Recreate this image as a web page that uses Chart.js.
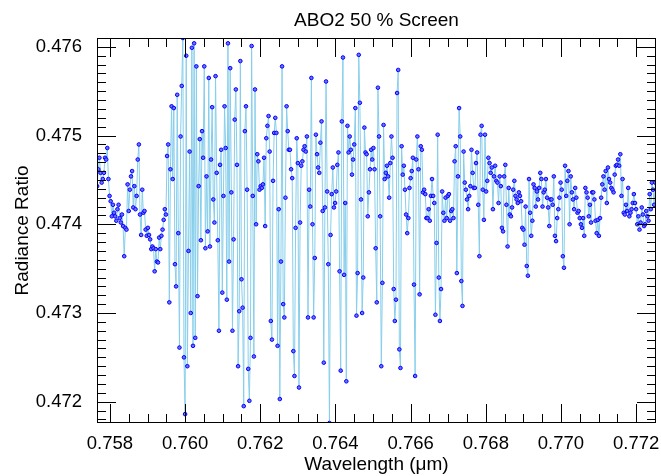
<!DOCTYPE html>
<html>
<head>
<meta charset="utf-8">
<script src="https://cdn.jsdelivr.net/npm/chart.js@4/dist/chart.umd.min.js"></script>
<style>
  html, body { margin: 0; padding: 0; background: #fff; }
  #wrap { width: 661px; height: 476px; }
</style>
</head>
<body>
<div id="wrap"><canvas id="ratioChart" width="661" height="476"></canvas></div>
<script>
// sampling of the spectrum
const wavelengthStart = 0.75766;
const wavelengthStep = 0.00003;

// radiance ratio per sample
const radianceRatio = [
  0.47443, 0.47462, 0.47475, 0.47458, 0.47447, 0.47451, 0.47458, 0.47475, 0.47473, 0.47486, 0.47451, 0.47432,
  0.47426, 0.47409, 0.47422, 0.47413, 0.47409, 0.47404, 0.47417, 0.47422, 0.47407, 0.47402, 0.47411, 0.47398,
  0.47364, 0.47396, 0.47394, 0.47445, 0.47415, 0.47439, 0.47454, 0.47460, 0.47419, 0.47443, 0.47417, 0.47432,
  0.47473, 0.47490, 0.47411, 0.47388, 0.47439, 0.47413, 0.47415, 0.47394, 0.47387, 0.47396, 0.47388, 0.47383,
  0.47372, 0.47375, 0.47373, 0.47347, 0.47372, 0.47358, 0.47357, 0.47385, 0.47372, 0.47387, 0.47394, 0.47405,
  0.47417, 0.47411, 0.47477, 0.47490, 0.47312, 0.47462, 0.47533, 0.47451, 0.47531, 0.47355, 0.47330, 0.47546,
  0.47390, 0.47261, 0.47499, 0.47556, 0.47610, 0.47250, 0.47186, 0.47590, 0.47240, 0.47370, 0.47482,
  0.47300, 0.47599, 0.47263, 0.47604, 0.47272, 0.47578, 0.47319, 0.47443, 0.47496, 0.47382, 0.47505, 0.47475,
  0.47578, 0.47373, 0.47454, 0.47392, 0.47565, 0.47375, 0.47473, 0.47532, 0.47428, 0.47402, 0.47567, 0.47458,
  0.47382, 0.47280, 0.47467, 0.47484, 0.47323, 0.47432, 0.47533, 0.47486, 0.47315, 0.47604, 0.47358, 0.47576,
  0.47436, 0.47280, 0.47383, 0.47518, 0.47552, 0.47467, 0.47240, 0.47302, 0.47584, 0.47338, 0.47306, 0.47195,
  0.47505, 0.47533, 0.47439, 0.47237, 0.47201, 0.47272, 0.47601, 0.47432, 0.47251, 0.47552, 0.47400, 0.47479,
  0.47471, 0.47439, 0.47443, 0.47441, 0.47445, 0.47475, 0.47398, 0.47497, 0.47511, 0.47522, 0.47482, 0.47291,
  0.47270, 0.47449, 0.47503, 0.47520, 0.47503, 0.47263, 0.47417, 0.47203, 0.47358,
  0.47578, 0.47310, 0.47295, 0.47430, 0.47533, 0.47505, 0.47484, 0.47484, 0.47462, 0.47452, 0.47257, 0.47229,
  0.47396, 0.47497, 0.47469, 0.47216, 0.47402, 0.47466, 0.47471, 0.47484, 0.47488, 0.47482, 0.47499, 0.47295,
  0.47439, 0.47420, 0.47565, 0.47400, 0.47295, 0.47362, 0.47501, 0.47479, 0.47464, 0.47458, 0.47492, 0.47516,
  0.47415, 0.47244, 0.47419, 0.47561, 0.47437, 0.47355, 0.47176, 0.47388, 0.47434, 0.47464, 0.47419, 0.47424,
  0.47437, 0.47467, 0.47481, 0.47347, 0.47235, 0.47516, 0.47588, 0.47343, 0.47424, 0.47223, 0.47511, 0.47481,
  0.47499, 0.47484, 0.47456, 0.47473, 0.47490, 0.47531, 0.47297, 0.47345, 0.47591, 0.47537, 0.47428, 0.47300,
  0.47340, 0.47509, 0.47481, 0.47479, 0.47409, 0.47436, 0.47462, 0.47484, 0.47473, 0.47486,
  0.47462, 0.47373, 0.47312, 0.47554, 0.47499, 0.47409, 0.47240, 0.47334, 0.47512, 0.47451, 0.47458, 0.47466,
  0.47454, 0.47430, 0.47469, 0.47499, 0.47475, 0.47327, 0.47291, 0.47315, 0.47548, 0.47574, 0.47259, 0.47238,
  0.47488, 0.47456, 0.47466, 0.47439, 0.47411, 0.47390, 0.47407, 0.47441, 0.47452, 0.47460, 0.47475, 0.47332,
  0.47229, 0.47473, 0.47499, 0.47462, 0.47321, 0.47488, 0.47484, 0.47436, 0.47439, 0.47434, 0.47407, 0.47407,
  0.47417, 0.47404, 0.47432, 0.47451, 0.47432, 0.47424, 0.47298, 0.47379, 0.47501, 0.47340, 0.47291, 0.47327,
  0.47437, 0.47413, 0.47404, 0.47430, 0.47407, 0.47432, 0.47434, 0.47404, 0.47415, 0.47417, 0.47407, 0.47471,
  0.47488, 0.47345, 0.47454, 0.47531, 0.47499, 0.47336, 0.47308, 0.47482, 0.47447,
  0.47439, 0.47428, 0.47417, 0.47432, 0.47443, 0.47484, 0.47458, 0.47441, 0.47441, 0.47469, 0.47481, 0.47422,
  0.47364, 0.47501, 0.47511, 0.47439, 0.47405, 0.47501, 0.47437, 0.47449, 0.47475, 0.47469, 0.47458, 0.47464,
  0.47417, 0.47454, 0.47466, 0.47449, 0.47447, 0.47424, 0.47454, 0.47443, 0.47396, 0.47392, 0.47454, 0.47467,
  0.47422, 0.47375, 0.47441, 0.47411, 0.47409, 0.47419, 0.47439, 0.47449, 0.47432, 0.47428, 0.47424, 0.47436,
  0.47432, 0.47426, 0.47396, 0.47394, 0.47377, 0.47420, 0.47353, 0.47342, 0.47451, 0.47413, 0.47387, 0.47404,
  0.47445, 0.47441, 0.47420, 0.47437, 0.47428, 0.47441, 0.47458, 0.47451, 0.47420, 0.47436, 0.47439, 0.47451,
  0.47430, 0.47419, 0.47398, 0.47428, 0.47428, 0.47422, 0.47454, 0.47387, 0.47381, 0.47407,
  0.47417, 0.47430, 0.47447, 0.47439, 0.47364, 0.47351, 0.47466, 0.47432, 0.47449, 0.47460, 0.47400, 0.47454,
  0.47436, 0.47428, 0.47417, 0.47441, 0.47430, 0.47413, 0.47415, 0.47407, 0.47400, 0.47396, 0.47407, 0.47387,
  0.47441, 0.47436, 0.47430, 0.47409, 0.47422, 0.47402, 0.47436, 0.47436, 0.47428, 0.47404, 0.47390, 0.47405,
  0.47387, 0.47407, 0.47430, 0.47445, 0.47454, 0.47439, 0.47460, 0.47424, 0.47464, 0.47451, 0.47447, 0.47441,
  0.47439, 0.47436, 0.47456, 0.47466, 0.47467, 0.47473, 0.47466, 0.47479, 0.47432, 0.47451, 0.47413, 0.47411,
  0.47422, 0.47415, 0.47441, 0.47409, 0.47413, 0.47417, 0.47424, 0.47434, 0.47424, 0.47417, 0.47400, 0.47409,
  0.47394, 0.47402, 0.47419, 0.47411, 0.47398, 0.47400, 0.47415, 0.47409, 0.47404, 0.47434, 0.47417, 0.47447,
  0.47439, 0.47422, 0.47447
];

const xTicks = [0.758, 0.760, 0.762, 0.764, 0.766, 0.768, 0.770, 0.772];
const yTicks = [0.472, 0.473, 0.474, 0.475, 0.476];

const points = radianceRatio.map((r, i) => ({ x: wavelengthStart + i * wavelengthStep, y: r }));

const FONT = '"Liberation Sans", Arial, Helvetica, sans-serif';

// box frame, inward tick marks on all four sides, and the titles
const framePlugin = {
  id: 'frame',
  afterDatasetsDraw(chart) {
    const { ctx, chartArea: a, scales } = chart;
    const xs = scales.x, ys = scales.y;
    ctx.save();
    ctx.strokeStyle = '#000';
    ctx.lineWidth = 1;
    ctx.strokeRect(Math.round(a.left) + 0.5, Math.round(a.top) + 0.5,
                   Math.round(a.right - a.left) - 1, Math.round(a.bottom - a.top) - 1);

    ctx.beginPath();
    for (let k = Math.ceil(xs.min / 0.0005); k * 0.0005 <= xs.max; k++) {
      const px = Math.round(xs.getPixelForValue(k * 0.0005)) + 0.5;
      const len = k % 4 === 0 ? 19 : 9;
      ctx.moveTo(px, a.bottom); ctx.lineTo(px, a.bottom - len);
      ctx.moveTo(px, a.top); ctx.lineTo(px, a.top + len);
    }
    for (let k = Math.ceil(ys.min / 0.0001 - 1e-6); k * 0.0001 <= ys.max; k++) {
      const py = Math.round(ys.getPixelForValue(k * 0.0001)) + 0.5;
      const len = k % 10 === 0 ? 19 : 9;
      ctx.moveTo(a.left, py); ctx.lineTo(a.left + len, py);
      ctx.moveTo(a.right, py); ctx.lineTo(a.right - len, py);
    }
    ctx.stroke();

    ctx.fillStyle = '#000';
    ctx.textAlign = 'center';
    ctx.textBaseline = 'middle';
    ctx.font = '19px ' + FONT;
    const cx = (a.left + a.right) / 2;
    ctx.fillText('ABO2 50 % Screen', cx, 21);
    ctx.fillText('Wavelength (\u03bcm)', cx, 465);
    ctx.translate(23, (a.top + a.bottom) / 2);
    ctx.rotate(-Math.PI / 2);
    ctx.fillText('Radiance Ratio', 0, 0);
    ctx.restore();
  }
};

new Chart(document.getElementById('ratioChart'), {
  type: 'line',
  data: {
    datasets: [{
      data: points,
      borderColor: '#87ceeb',
      borderWidth: 1,
      tension: 0,
      pointRadius: 1.8,
      pointBorderWidth: 1,
      pointBorderColor: '#0000ff',
      pointBackgroundColor: '#7070ff',
      clip: 0
    }]
  },
  options: {
    responsive: false,
    animation: false,
    devicePixelRatio: 1,
    layout: { padding: { top: 38, right: 2, left: 0, bottom: 0 } },
    plugins: { legend: { display: false }, tooltip: { enabled: false } },
    scales: {
      x: {
        type: 'linear',
        min: 0.757656,
        max: 0.772529,
        grid: { display: false, drawTicks: false },
        border: { display: false },
        afterBuildTicks: s => { s.ticks = xTicks.map(v => ({ value: v })); },
        afterFit: s => { s.height = 53; s.paddingLeft = 0; s.paddingRight = 0; },
        ticks: {
          color: '#000', padding: 10, maxRotation: 0, autoSkip: false,
          font: { family: FONT, size: 18.5 },
          callback: v => v.toFixed(3)
        }
      },
      y: {
        min: 0.47176,
        max: 0.47610,
        grid: { display: false, drawTicks: false },
        border: { display: false },
        afterBuildTicks: s => { s.ticks = yTicks.map(v => ({ value: v })); },
        afterFit: s => { s.width = 97; s.paddingTop = 0; s.paddingBottom = 0; },
        ticks: {
          color: '#000', padding: 15, autoSkip: false,
          font: { family: FONT, size: 18.5 },
          callback: v => v.toFixed(3)
        }
      }
    }
  },
  plugins: [framePlugin]
});
</script>
</body>
</html>
